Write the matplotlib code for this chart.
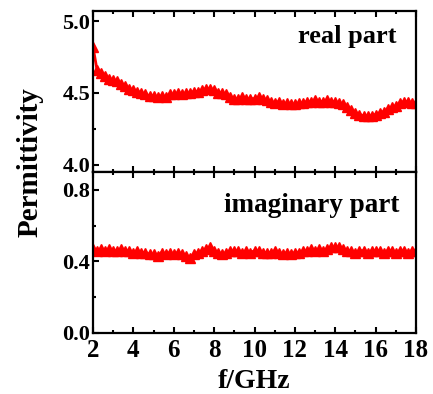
import numpy as np
import matplotlib
matplotlib.use("Agg")
import matplotlib.pyplot as plt
from matplotlib.ticker import MultipleLocator

freq = [2.0 + 0.2 * i for i in range(81)]

real_part = [4.82, 4.66, 4.64, 4.62, 4.60, 4.59, 4.58, 4.56, 4.55, 4.53,
             4.52, 4.51, 4.50, 4.49, 4.48, 4.48, 4.47, 4.48, 4.47, 4.49,
             4.49, 4.50, 4.49, 4.50, 4.50, 4.51, 4.51, 4.52, 4.53, 4.53,
             4.52, 4.50, 4.50, 4.49, 4.47, 4.46, 4.46, 4.47, 4.46, 4.46,
             4.46, 4.47, 4.46, 4.45, 4.44, 4.43, 4.44, 4.42, 4.43, 4.42,
             4.42, 4.43, 4.43, 4.44, 4.44, 4.45, 4.44, 4.44, 4.45, 4.44,
             4.44, 4.43, 4.42, 4.40, 4.38, 4.36, 4.35, 4.34, 4.34, 4.34,
             4.35, 4.36, 4.37, 4.39, 4.40, 4.41, 4.43, 4.44, 4.44, 4.43,
             4.43]

imag_part = [0.47, 0.46, 0.47, 0.46, 0.47, 0.46, 0.46, 0.47, 0.46, 0.46,
             0.45, 0.46, 0.45, 0.45, 0.44, 0.44, 0.43, 0.45, 0.44, 0.45,
             0.44, 0.45, 0.44, 0.43, 0.42, 0.44, 0.45, 0.46, 0.47, 0.48,
             0.46, 0.45, 0.44, 0.45, 0.46, 0.46, 0.46, 0.45, 0.46, 0.45,
             0.46, 0.46, 0.45, 0.45, 0.45, 0.46, 0.45, 0.44, 0.45, 0.44,
             0.45, 0.45, 0.46, 0.46, 0.47, 0.46, 0.47, 0.46, 0.47, 0.48,
             0.48, 0.48, 0.47, 0.46, 0.46, 0.45, 0.46, 0.46, 0.45, 0.46,
             0.46, 0.46, 0.45, 0.46, 0.46, 0.45, 0.46, 0.46, 0.45, 0.46,
             0.46]

x_ticks = [2, 4, 6, 8, 10, 12, 14, 16, 18]
real_ticks = [4.0, 4.5, 5.0]
imag_ticks = [0.0, 0.4, 0.8]

plt.rcParams['font.family'] = ['Liberation Serif', 'DejaVu Serif']
plt.rcParams['font.weight'] = 'bold'

fig = plt.figure(figsize=(4.33, 3.94), dpi=100)
W, H = 433, 394
left = 93 / W
width = (416 - 93) / W
ax_top = fig.add_axes([left, 1 - 172 / H, width, (172 - 11) / H])
ax_bot = fig.add_axes([left, 1 - 333 / H, width, (333 - 172) / H])

red = '#ff0000'
for ax, y in [(ax_top, real_part), (ax_bot, imag_part)]:
    ax.plot(freq, y, color=red, lw=2, marker='^', ms=7, mec=red, mfc=red)
    ax.set_xlim(2, 18)
    ax.xaxis.set_major_locator(MultipleLocator(2))
    ax.xaxis.set_minor_locator(MultipleLocator(1))
    ax.tick_params(which='both', direction='in', top=True, right=False, width=1.5,
                   labelsize=16, pad=2)
    ax.tick_params(which='major', length=4)
    ax.tick_params(which='minor', length=2.5)
    for s in ax.spines.values():
        s.set_linewidth(1.6)

ax_top.set_ylim(3.95, 5.07)
ax_top.set_yticks(real_ticks)
ax_top.set_yticklabels(['4.0', '4.5', '5.0'], fontweight='bold', fontsize=16)
ax_top.yaxis.set_minor_locator(MultipleLocator(0.25))
ax_top.tick_params(axis='x', labelbottom=False)

ax_bot.set_ylim(0.0, 0.9)
ax_bot.set_yticks(imag_ticks)
ax_bot.set_yticklabels(['0.0', '0.4', '0.8'], fontweight='bold', fontsize=16)
ax_bot.yaxis.set_minor_locator(MultipleLocator(0.2))
ax_bot.set_xticks(x_ticks)
ax_bot.set_xticklabels([str(t) for t in x_ticks], fontweight='bold', fontsize=18)
ax_bot.tick_params(axis='x', pad=4)

ax_top.text(0.941, 0.801, 'real part', transform=ax_top.transAxes, ha='right',
            va='baseline', fontsize=19, fontweight='bold')
ax_bot.text(0.950, 0.752, 'imaginary part', transform=ax_bot.transAxes, ha='right',
            va='baseline', fontsize=19.5, fontweight='bold')

fig.text(30 / W, 1 - 162 / H, 'Permittivity', rotation=90, ha='center', va='center',
         fontsize=21, fontweight='bold')
fig.text(254 / W, 1 - 388 / H, 'f/GHz', ha='center', va='baseline',
         fontsize=20, fontweight='bold')

fig.savefig('out.png', dpi=100)
